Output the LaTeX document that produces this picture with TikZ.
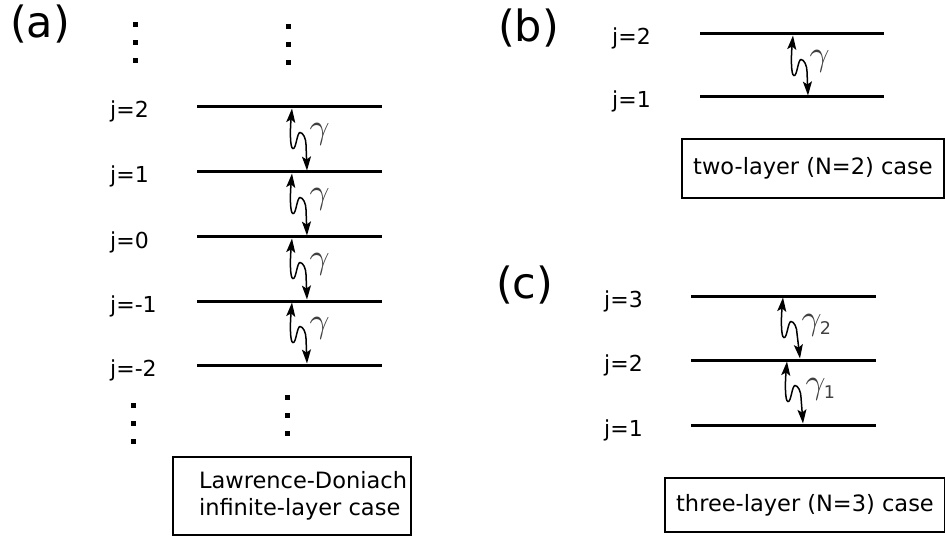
\documentclass[tikz,border=0pt]{standalone}
\usepackage{amsmath}
\usepackage{fontspec}
\setmainfont{DejaVu Sans}
\usetikzlibrary{arrows.meta}

\tikzset{
  level/.style={line width=3pt},
  hop/.style={line width=1.5pt, {Stealth[length=14pt,width=9pt,inset=3pt]}-{Stealth[length=14pt,width=9pt,inset=3pt]}},
  jlab/.style={anchor=base west, inner sep=0pt, font=\fontsize{22}{26}\selectfont},
  tag/.style={anchor=base west, inner sep=0pt, font=\fontsize{43}{48}\selectfont},
  case/.style={draw, line width=2pt, font=\fontsize{22.5}{27}\selectfont, align=left, inner sep=0pt},
  rate/.style={anchor=west, scale=3.5, text=black!75, inner sep=0pt},
}

% wavy double arrow from top coordinate to bottom coordinate
\newcommand\hop[2]{%
  \draw[hop] (#1) .. controls +(-2,22) and +(-3,0) .. ++(1,40)
    .. controls +(3,1) and +(-3,0) .. ++(7,-16)
    .. controls +(3,0) and +(0,-6) .. ++(6,12) -- (#2);
}

\begin{document}
\begin{tikzpicture}[x=1pt, y=-1pt]
\useasboundingbox (0,0) rectangle (945,540);

% (a)
\node[tag] (pa) at (10,38) {(a)};
\foreach \j/\y in {2/107,1/172,0/237,-1/301,-2/365}
{
    \draw[level] (197,\y) coordinate (aL\j) -- (382,\y) coordinate (aR\j);
    \node[jlab] (aj\j) at (110,\y+11) {j=\j};
}
\foreach \t/\b in {107/172,172/237,237/301,301/365}
{
    \coordinate (aup\t) at (292,\t+1.5);
    \coordinate (adn\t) at (307,\b-1.5);
    \hop{aup\t}{adn\t}
    \path (aup\t) ++(17,26) node[rate] (ag\t) {$\gamma$};
}
\foreach \x/\y in {135/25,288/27,133/405,287/397}
    \foreach \k in {0,18,36}
        \fill (\x-2.5,\y+\k-2.5) rectangle ++(5,5);
\node[case, minimum width=238pt, minimum height=78pt] (boxa) at (292,496) {\hspace*{22pt}Lawrence-Doniach\\\hspace*{22pt}infinite-layer case};

% (b)
\node[tag] (pb) at (498,42) {(b)};
\foreach \j/\y in {2/34,1/97}
{
    \draw[level] (700,\y) coordinate (bL\j) -- (884,\y) coordinate (bR\j);
    \node[jlab] (bj\j) at (612,\y+11) {j=\j};
}
\coordinate (bup) at (793,35.5);
\coordinate (bdn) at (808,95.5);
\hop{bup}{bdn}
\path (bup) ++(16,26) node[rate] (bg) {$\gamma$};
\node[case, minimum width=262pt, minimum height=59pt] (boxb) at (813,168.5) {two-layer (N=2) case};

% (c)
\node[tag] (pc) at (496,298) {(c)};
\foreach \j/\y in {3/296,2/360,1/425}
{
    \draw[level] (691,\y) coordinate (cL\j) -- (876,\y) coordinate (cR\j);
    \node[jlab] (cj\j) at (604,\y+11) {j=\j};
}
\coordinate (cup2) at (783,297.5);
\coordinate (cdn2) at (800,358.5);
\coordinate (cup1) at (787,361.5);
\coordinate (cdn1) at (803,423.5);
\hop{cup2}{cdn2}
\hop{cup1}{cdn1}
\path (cup2) ++(18,28) node[rate] (cg2) {$\gamma_{\scriptscriptstyle\text{2}}$};
\path (cup1) ++(18,28) node[rate] (cg1) {$\gamma_{\scriptscriptstyle\text{1}}$};
\node[case, minimum width=280pt, minimum height=54pt] (boxc) at (805,505) {three-layer (N=3) case};

\end{tikzpicture}
\end{document}
